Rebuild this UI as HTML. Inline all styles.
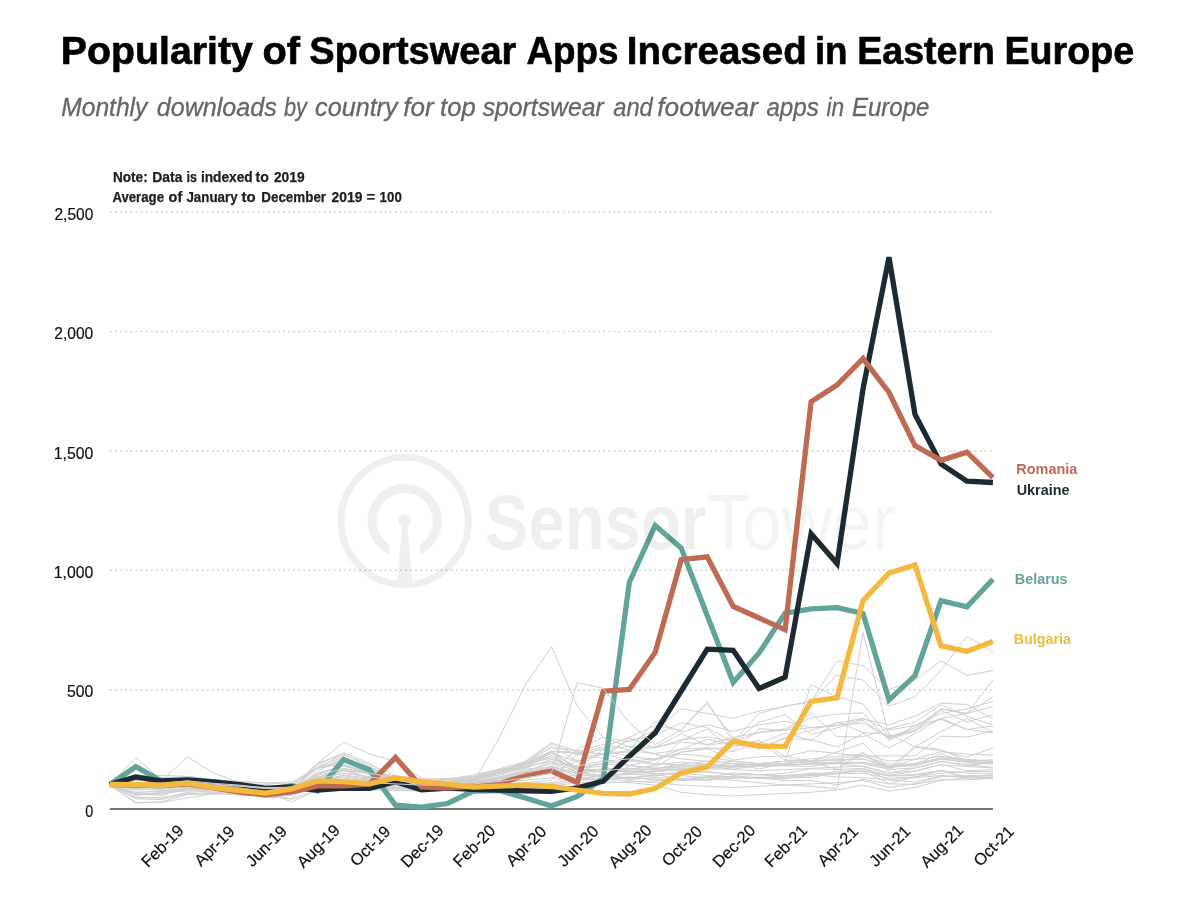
<!DOCTYPE html>
<html lang="en">
<head>
<meta charset="utf-8">
<title>Popularity of Sportswear Apps Increased in Eastern Europe</title>
<style>
html,body{margin:0;padding:0;background:#fff;}
body{width:1180px;height:900px;overflow:hidden;font-family:"Liberation Sans",sans-serif;}
svg{display:block;font-family:"Liberation Sans",sans-serif;}
.title{font-weight:bold;font-size:38.8px;fill:#000;stroke:#000;stroke-width:0.6px;}
.sub{font-style:italic;font-size:26.6px;fill:#666;stroke:#666;stroke-width:0.3px;}
.note{font-weight:bold;font-size:14.2px;fill:#1e1e1e;stroke:#1e1e1e;stroke-width:0.25px;}
.ax text{font-size:16.4px;fill:#111;stroke:#111;stroke-width:0.2px;}
.leg text{font-weight:bold;font-size:15.4px;}
.yl{font-size:16.2px;fill:#111;stroke:#111;stroke-width:0.25px;}
.grid line{stroke:#cacaca;stroke-width:1.5;stroke-dasharray:1.7 3.385;}
.gray polyline{fill:none;stroke:#d0d0d0;stroke-width:1;stroke-linejoin:round;}
.main polyline{fill:none;stroke-width:5.3;stroke-linejoin:miter;stroke-linecap:butt;}
.wm{fill:#000;}
.wmb{font-size:78px;font-weight:bold;fill:#000;}
.wmr{font-size:78px;fill:#000;opacity:0.75;}
</style>
</head>
<body>
<svg width="1180" height="900" viewBox="0 0 1180 900">
<rect width="1180" height="900" fill="#fff"/>
<text class="title" y="63.7"><tspan x="60.87" textLength="192.10" lengthAdjust="spacingAndGlyphs">Popularity</tspan> <tspan x="262.57" textLength="37.54" lengthAdjust="spacingAndGlyphs">of</tspan> <tspan x="309.32" textLength="207.08" lengthAdjust="spacingAndGlyphs">Sportswear</tspan> <tspan x="526.40" textLength="92.10" lengthAdjust="spacingAndGlyphs">Apps</tspan> <tspan x="626.81" textLength="179.97" lengthAdjust="spacingAndGlyphs">Increased</tspan> <tspan x="814.90" textLength="32.71" lengthAdjust="spacingAndGlyphs">in</tspan> <tspan x="857.16" textLength="137.88" lengthAdjust="spacingAndGlyphs">Eastern</tspan> <tspan x="1004.46" textLength="129.70" lengthAdjust="spacingAndGlyphs">Europe</tspan></text>
<text class="sub" y="115.5"><tspan x="61.20" textLength="86.22" lengthAdjust="spacingAndGlyphs">Monthly</tspan> <tspan x="156.80" textLength="119.88" lengthAdjust="spacingAndGlyphs">downloads</tspan> <tspan x="283.90" textLength="23.01" lengthAdjust="spacingAndGlyphs">by</tspan> <tspan x="315.10" textLength="82.49" lengthAdjust="spacingAndGlyphs">country</tspan> <tspan x="403.20" textLength="30.38" lengthAdjust="spacingAndGlyphs">for</tspan> <tspan x="440.04" textLength="35.63" lengthAdjust="spacingAndGlyphs">top</tspan> <tspan x="482.70" textLength="120.94" lengthAdjust="spacingAndGlyphs">sportswear</tspan> <tspan x="613.20" textLength="39.62" lengthAdjust="spacingAndGlyphs">and</tspan> <tspan x="657.30" textLength="100.57" lengthAdjust="spacingAndGlyphs">footwear</tspan> <tspan x="766.40" textLength="52.37" lengthAdjust="spacingAndGlyphs">apps</tspan> <tspan x="826.40" textLength="17.67" lengthAdjust="spacingAndGlyphs">in</tspan> <tspan x="851.90" textLength="77.62" lengthAdjust="spacingAndGlyphs">Europe</tspan></text>
<text class="note" y="182.1"><tspan x="112.90" textLength="34.80" lengthAdjust="spacingAndGlyphs">Note:</tspan> <tspan x="152.30" textLength="30.09" lengthAdjust="spacingAndGlyphs">Data</tspan> <tspan x="186.40" textLength="10.50" lengthAdjust="spacingAndGlyphs">is</tspan> <tspan x="200.90" textLength="51.84" lengthAdjust="spacingAndGlyphs">indexed</tspan> <tspan x="255.60" textLength="13.27" lengthAdjust="spacingAndGlyphs">to</tspan> <tspan x="273.90" textLength="30.69" lengthAdjust="spacingAndGlyphs">2019</tspan></text>
<text class="note" y="201.8"><tspan x="112.40" textLength="51.60" lengthAdjust="spacingAndGlyphs">Average</tspan> <tspan x="168.60" textLength="13.62" lengthAdjust="spacingAndGlyphs">of</tspan> <tspan x="186.40" textLength="51.20" lengthAdjust="spacingAndGlyphs">January</tspan> <tspan x="241.60" textLength="14.15" lengthAdjust="spacingAndGlyphs">to</tspan> <tspan x="261.30" textLength="64.75" lengthAdjust="spacingAndGlyphs">December</tspan> <tspan x="331.50" textLength="30.89" lengthAdjust="spacingAndGlyphs">2019</tspan> <tspan x="366.40" textLength="8.70" lengthAdjust="spacingAndGlyphs">=</tspan> <tspan x="379.60" textLength="22.20" lengthAdjust="spacingAndGlyphs">100</tspan></text>


<g class="grid">
<line x1="110.2" y1="689.7" x2="993" y2="689.7"/>
<line x1="110.2" y1="570.3" x2="993" y2="570.3"/>
<line x1="110.2" y1="450.9" x2="993" y2="450.9"/>
<line x1="110.2" y1="331.5" x2="993" y2="331.5"/>
<line x1="110.2" y1="212.1" x2="993" y2="212.1"/>
</g>
<g class="gray">
<polyline points="109.8,785.1 135.8,757.7 161.7,780.3 187.7,756.9 213.7,773.2 239.7,782.7 265.6,787.5 291.6,789.9 317.6,773.2 343.6,766.0 369.5,773.2 395.5,775.6 421.5,782.7 447.5,785.1 473.4,783.9 499.4,782.7 525.4,780.3 551.4,778.0 577.3,779.1 603.3,780.3 629.3,778.0 655.2,775.6 681.2,773.2 707.2,775.6 733.2,776.8 759.1,778.0 785.1,775.6 811.1,773.2 837.1,773.2 863.0,770.8 889.0,775.6 915.0,774.4 941.0,770.8 966.9,773.2 992.9,773.2"/>
<polyline points="109.8,785.1 135.8,778.0 161.7,782.7 187.7,780.3 213.7,783.9 239.7,786.3 265.6,788.7 291.6,791.1 317.6,763.6 343.6,742.1 369.5,754.1 395.5,761.2 421.5,778.0 447.5,782.7 473.4,781.5 499.4,780.3 525.4,778.0 551.4,773.2 577.3,768.4 603.3,763.6 629.3,761.2 655.2,758.9 681.2,754.1 707.2,756.5 733.2,761.2 759.1,763.6 785.1,761.2 811.1,758.9 837.1,756.5 863.0,754.1 889.0,761.2 915.0,758.9 941.0,751.7 966.9,754.1 992.9,755.3"/>
<polyline stroke="#e0e0e0" points="109.8,785.1 135.8,787.5 161.7,786.3 187.7,785.1 213.7,786.3 239.7,787.5 265.6,788.7 291.6,789.9 317.6,785.1 343.6,782.7 369.5,783.9 395.5,785.1 421.5,786.3 447.5,786.3 473.4,782.7 499.4,737.4 525.4,684.8 551.4,646.6 577.3,706.3 603.3,737.4 629.3,746.9 655.2,754.1 681.2,758.9 707.2,761.2 733.2,763.6 759.1,764.8 785.1,763.6 811.1,761.2 837.1,760.0 863.0,758.9 889.0,766.0 915.0,763.6 941.0,757.7 966.9,760.0 992.9,761.2"/>
<polyline points="109.8,785.1 135.8,789.9 161.7,788.7 187.7,787.5 213.7,788.7 239.7,789.9 265.6,791.1 291.6,792.3 317.6,786.3 343.6,785.1 369.5,786.3 395.5,787.5 421.5,788.7 447.5,787.5 473.4,786.3 499.4,785.1 525.4,782.7 551.4,780.3 577.3,754.1 603.3,746.9 629.3,737.4 655.2,725.4 681.2,730.2 707.2,701.5 733.2,742.1 759.1,713.5 785.1,706.3 811.1,701.5 837.1,675.3 863.0,680.0 889.0,706.3 915.0,696.8 941.0,670.5 966.9,636.1 992.9,652.1"/>
<polyline points="109.8,785.1 135.8,782.7 161.7,783.9 187.7,782.7 213.7,785.1 239.7,786.3 265.6,787.5 291.6,788.7 317.6,780.3 343.6,775.6 369.5,778.0 395.5,780.3 421.5,782.7 447.5,783.9 473.4,782.7 499.4,780.3 525.4,775.6 551.4,770.8 577.3,749.3 603.3,737.4 629.3,742.1 655.2,730.2 681.2,708.7 707.2,713.5 733.2,718.3 759.1,711.1 785.1,706.3 811.1,701.5 837.1,660.9 863.0,665.7 889.0,689.6 915.0,680.0 941.0,660.9 966.9,675.3 992.9,670.5"/>
<polyline points="109.8,785.1 135.8,792.3 161.7,791.1 187.7,789.9 213.7,788.7 239.7,789.9 265.6,790.4 291.6,791.8 317.6,787.5 343.6,786.3 369.5,787.5 395.5,788.0 421.5,788.7 447.5,788.0 473.4,787.0 499.4,785.6 525.4,783.9 551.4,782.7 577.3,773.2 603.3,768.4 629.3,770.8 655.2,773.2 681.2,775.6 707.2,778.0 733.2,780.3 759.1,782.7 785.1,785.1 811.1,786.3 837.1,788.7 863.0,632.5 889.0,736.2 915.0,730.2 941.0,708.7 966.9,713.5 992.9,706.3"/>
<polyline points="109.8,785.1 135.8,794.7 161.7,792.3 187.7,791.1 213.7,789.9 239.7,790.4 265.6,791.1 291.6,792.3 317.6,788.7 343.6,787.5 369.5,788.0 395.5,788.7 421.5,789.4 447.5,788.7 473.4,787.5 499.4,786.3 525.4,785.1 551.4,783.9 577.3,778.0 603.3,775.6 629.3,773.2 655.2,770.8 681.2,768.4 707.2,767.2 733.2,766.0 759.1,763.6 785.1,761.2 811.1,684.8 837.1,696.8 863.0,703.9 889.0,737.4 915.0,727.8 941.0,708.7 966.9,713.5 992.9,680.0"/>
<polyline points="109.8,785.1 135.8,780.3 161.7,781.5 187.7,779.1 213.7,782.7 239.7,785.1 265.6,786.3 291.6,787.5 317.6,778.0 343.6,770.8 369.5,773.2 395.5,778.0 421.5,781.5 447.5,782.7 473.4,781.5 499.4,779.1 525.4,775.6 551.4,772.0 577.3,761.2 603.3,754.1 629.3,751.7 655.2,746.9 681.2,742.1 707.2,744.5 733.2,737.4 759.1,732.6 785.1,730.2 811.1,727.8 837.1,725.4 863.0,723.0 889.0,737.4 915.0,730.2 941.0,718.3 966.9,713.5 992.9,696.8"/>
<polyline points="109.8,785.1 135.8,803.0 161.7,801.8 187.7,794.7 213.7,792.3 239.7,791.8 265.6,792.3 291.6,801.8 317.6,789.9 343.6,788.7 369.5,789.9 395.5,790.4 421.5,791.1 447.5,790.4 473.4,789.4 499.4,788.0 525.4,787.0 551.4,786.1 577.3,782.7 603.3,781.5 629.3,782.7 655.2,785.1 681.2,792.3 707.2,794.7 733.2,795.9 759.1,794.7 785.1,793.5 811.1,792.3 837.1,789.9 863.0,785.1 889.0,791.1 915.0,787.5 941.0,780.3 966.9,778.0 992.9,776.8"/>
<polyline points="109.8,785.1 135.8,797.1 161.7,798.3 187.7,792.3 213.7,791.1 239.7,791.3 265.6,792.3 291.6,799.4 317.6,789.4 343.6,788.0 369.5,788.9 395.5,789.9 421.5,790.4 447.5,789.9 473.4,788.7 499.4,787.5 525.4,786.3 551.4,785.1 577.3,780.3 603.3,779.1 629.3,780.8 655.2,782.7 681.2,785.1 707.2,786.3 733.2,787.5 759.1,786.3 785.1,785.1 811.1,783.9 837.1,782.7 863.0,780.3 889.0,787.5 915.0,783.9 941.0,776.8 966.9,775.6 992.9,775.1"/>
<polyline points="109.8,785.1 135.8,784.9 161.7,786.0 187.7,785.2 213.7,786.3 239.7,786.7 265.6,788.9 291.6,787.4 317.6,782.2 343.6,776.9 369.5,781.0 395.5,782.9 421.5,784.5 447.5,784.7 473.4,783.2 499.4,776.9 525.4,772.0 551.4,761.7 577.3,777.5 603.3,780.3 629.3,776.8 655.2,780.1 681.2,780.3 707.2,777.8 733.2,772.9 759.1,774.5 785.1,775.9 811.1,774.5 837.1,776.9 863.0,777.7 889.0,779.9 915.0,782.0 941.0,775.9 966.9,776.3 992.9,775.6"/>
<polyline points="109.8,785.1 135.8,776.1 161.7,775.4 187.7,776.4 213.7,779.6 239.7,781.3 265.6,782.9 291.6,781.9 317.6,768.3 343.6,764.1 369.5,773.6 395.5,779.7 421.5,781.9 447.5,782.4 473.4,778.3 499.4,771.8 525.4,767.1 551.4,755.8 577.3,770.2 603.3,769.7 629.3,771.9 655.2,771.6 681.2,769.4 707.2,767.2 733.2,767.0 759.1,765.0 785.1,765.5 811.1,764.1 837.1,763.7 863.0,762.5 889.0,768.2 915.0,763.2 941.0,759.5 966.9,761.0 992.9,763.1"/>
<polyline points="109.8,785.1 135.8,787.8 161.7,787.4 187.7,783.5 213.7,785.9 239.7,787.2 265.6,786.6 291.6,788.4 317.6,764.4 343.6,752.7 369.5,763.1 395.5,780.9 421.5,783.1 447.5,778.6 473.4,777.1 499.4,773.1 525.4,764.3 551.4,753.1 577.3,767.6 603.3,766.7 629.3,773.4 655.2,771.0 681.2,766.3 707.2,765.2 733.2,765.6 759.1,763.8 785.1,764.6 811.1,764.4 837.1,763.4 863.0,766.6 889.0,773.1 915.0,768.1 941.0,761.6 966.9,765.7 992.9,762.0"/>
<polyline points="109.8,785.1 135.8,794.0 161.7,795.4 187.7,788.3 213.7,788.6 239.7,788.1 265.6,789.7 291.6,792.2 317.6,771.0 343.6,757.7 369.5,769.0 395.5,778.5 421.5,780.7 447.5,779.6 473.4,774.7 499.4,769.4 525.4,765.0 551.4,751.0 577.3,769.8 603.3,769.3 629.3,769.2 655.2,765.1 681.2,761.9 707.2,765.4 733.2,763.5 759.1,769.0 785.1,763.3 811.1,761.9 837.1,763.0 863.0,763.5 889.0,769.3 915.0,768.0 941.0,761.4 966.9,764.7 992.9,767.4"/>
<polyline points="109.8,785.1 135.8,775.1 161.7,777.9 187.7,776.7 213.7,780.5 239.7,782.4 265.6,786.2 291.6,784.3 317.6,768.1 343.6,754.1 369.5,766.9 395.5,780.4 421.5,783.3 447.5,782.8 473.4,778.9 499.4,773.1 525.4,764.7 551.4,755.8 577.3,770.6 603.3,769.8 629.3,772.2 655.2,768.5 681.2,767.2 707.2,766.4 733.2,769.1 759.1,765.7 785.1,765.7 811.1,763.1 837.1,762.4 863.0,762.2 889.0,766.4 915.0,766.0 941.0,758.9 966.9,762.2 992.9,762.6"/>
<polyline points="109.8,785.1 135.8,792.4 161.7,791.0 187.7,788.8 213.7,787.5 239.7,788.2 265.6,788.4 291.6,791.9 317.6,774.5 343.6,765.2 369.5,772.4 395.5,781.5 421.5,781.1 447.5,781.2 473.4,778.7 499.4,772.1 525.4,763.5 551.4,758.1 577.3,767.9 603.3,772.8 629.3,770.2 655.2,768.6 681.2,763.9 707.2,763.6 733.2,761.3 759.1,763.9 785.1,761.3 811.1,760.8 837.1,758.7 863.0,755.7 889.0,766.6 915.0,759.5 941.0,756.3 966.9,759.3 992.9,761.6"/>
<polyline points="109.8,785.1 135.8,802.3 161.7,802.4 187.7,797.8 213.7,793.4 239.7,795.1 265.6,796.6 291.6,798.7 317.6,778.2 343.6,770.0 369.5,778.3 395.5,786.8 421.5,787.8 447.5,785.8 473.4,783.8 499.4,781.1 525.4,775.2 551.4,767.2 577.3,779.8 603.3,777.7 629.3,778.0 655.2,779.0 681.2,780.2 707.2,780.2 733.2,775.7 759.1,778.3 785.1,779.0 811.1,773.7 837.1,773.2 863.0,770.9 889.0,776.1 915.0,775.3 941.0,770.4 966.9,777.8 992.9,778.4"/>
<polyline points="109.8,785.1 135.8,798.2 161.7,797.4 187.7,793.6 213.7,794.2 239.7,793.5 265.6,793.5 291.6,795.5 317.6,787.2 343.6,781.3 369.5,783.1 395.5,787.5 421.5,786.0 447.5,782.4 473.4,781.9 499.4,778.3 525.4,775.1 551.4,770.0 577.3,780.0 603.3,775.0 629.3,779.5 655.2,777.5 681.2,778.6 707.2,776.5 733.2,777.1 759.1,777.2 785.1,777.6 811.1,775.5 837.1,773.8 863.0,773.3 889.0,778.2 915.0,776.9 941.0,773.2 966.9,771.6 992.9,771.4"/>
<polyline points="109.8,785.1 135.8,788.7 161.7,790.2 187.7,789.2 213.7,788.9 239.7,789.3 265.6,788.9 291.6,790.6 317.6,782.9 343.6,775.1 369.5,779.0 395.5,782.9 421.5,788.9 447.5,782.9 473.4,781.2 499.4,778.1 525.4,772.2 551.4,766.1 577.3,773.4 603.3,775.5 629.3,774.6 655.2,773.5 681.2,772.8 707.2,771.6 733.2,774.8 759.1,774.6 785.1,777.0 811.1,775.6 837.1,771.0 863.0,771.4 889.0,783.6 915.0,776.9 941.0,770.6 966.9,776.8 992.9,777.9"/>
<polyline points="109.8,785.1 135.8,786.6 161.7,786.5 187.7,784.5 213.7,789.2 239.7,788.2 265.6,788.6 291.6,790.3 317.6,786.9 343.6,787.5 369.5,787.0 395.5,785.4 421.5,784.5 447.5,787.1 473.4,783.8 499.4,782.9 525.4,776.3 551.4,771.4 577.3,782.6 603.3,783.3 629.3,781.7 655.2,781.0 681.2,779.9 707.2,777.3 733.2,777.7 759.1,777.8 785.1,780.7 811.1,780.4 837.1,784.7 863.0,779.4 889.0,783.9 915.0,784.3 941.0,779.7 966.9,779.9 992.9,778.3"/>
<polyline points="109.8,785.1 135.8,795.0 161.7,794.2 187.7,789.4 213.7,788.6 239.7,789.9 265.6,789.9 291.6,792.5 317.6,778.2 343.6,769.7 369.5,777.8 395.5,779.2 421.5,781.4 447.5,781.2 473.4,776.6 499.4,770.5 525.4,763.3 551.4,753.0 577.3,767.2 603.3,763.9 629.3,765.4 655.2,768.2 681.2,765.5 707.2,766.5 733.2,767.1 759.1,766.3 785.1,765.7 811.1,766.5 837.1,761.9 863.0,756.2 889.0,764.0 915.0,764.3 941.0,753.6 966.9,763.0 992.9,764.0"/>
<polyline points="109.8,785.1 135.8,784.0 161.7,784.0 187.7,781.9 213.7,785.3 239.7,785.6 265.6,787.2 291.6,788.2 317.6,786.2 343.6,784.6 369.5,785.5 395.5,783.1 421.5,786.3 447.5,782.6 473.4,782.0 499.4,777.2 525.4,769.1 551.4,767.1 577.3,776.2 603.3,774.4 629.3,778.2 655.2,774.4 681.2,779.3 707.2,779.9 733.2,778.3 759.1,777.7 785.1,778.0 811.1,777.3 837.1,773.2 863.0,768.6 889.0,779.8 915.0,777.7 941.0,775.5 966.9,777.9 992.9,774.3"/>
<polyline points="109.8,785.1 135.8,780.5 161.7,780.6 187.7,777.5 213.7,784.9 239.7,783.9 265.6,786.6 291.6,789.3 317.6,768.2 343.6,761.9 369.5,770.1 395.5,781.8 421.5,786.1 447.5,783.6 473.4,779.7 499.4,775.0 525.4,767.0 551.4,761.2 577.3,772.1 603.3,776.4 629.3,773.9 655.2,776.1 681.2,772.5 707.2,772.0 733.2,774.6 759.1,774.9 785.1,773.4 811.1,768.7 837.1,769.6 863.0,768.4 889.0,775.2 915.0,771.5 941.0,764.4 966.9,770.7 992.9,769.6"/>
<polyline points="109.8,785.1 135.8,785.7 161.7,789.1 187.7,784.7 213.7,788.3 239.7,786.0 265.6,787.1 291.6,787.7 317.6,773.8 343.6,766.0 369.5,772.5 395.5,778.9 421.5,781.1 447.5,781.5 473.4,776.3 499.4,772.8 525.4,762.6 551.4,751.2 577.3,752.3 603.3,753.8 629.3,750.7 655.2,753.5 681.2,749.5 707.2,739.3 733.2,744.4 759.1,748.1 785.1,738.4 811.1,739.7 837.1,747.0 863.0,733.5 889.0,748.1 915.0,733.6 941.0,718.2 966.9,729.3 992.9,732.8"/>
<polyline points="109.8,785.1 135.8,785.1 161.7,785.6 187.7,782.5 213.7,784.0 239.7,786.0 265.6,786.1 291.6,786.6 317.6,763.0 343.6,754.9 369.5,764.5 395.5,775.5 421.5,779.0 447.5,778.5 473.4,776.5 499.4,768.7 525.4,761.6 551.4,744.1 577.3,755.2 603.3,748.9 629.3,746.5 655.2,747.2 681.2,733.7 707.2,745.2 733.2,741.7 759.1,732.2 785.1,728.9 811.1,713.3 837.1,736.7 863.0,736.8 889.0,728.7 915.0,722.0 941.0,704.8 966.9,716.4 992.9,725.0"/>
<polyline points="109.8,785.1 135.8,798.8 161.7,799.6 187.7,794.0 213.7,792.8 239.7,791.8 265.6,791.1 291.6,792.7 317.6,785.4 343.6,781.4 369.5,778.8 395.5,780.8 421.5,782.0 447.5,782.6 473.4,778.9 499.4,772.9 525.4,768.3 551.4,759.3 577.3,768.5 603.3,749.3 629.3,756.7 655.2,759.1 681.2,749.3 707.2,747.6 733.2,751.6 759.1,742.3 785.1,759.8 811.1,761.4 837.1,752.0 863.0,743.2 889.0,768.0 915.0,747.1 941.0,751.1 966.9,757.1 992.9,747.9"/>
<polyline points="109.8,785.1 135.8,793.9 161.7,793.2 187.7,787.4 213.7,788.8 239.7,790.5 265.6,794.0 291.6,790.5 317.6,782.5 343.6,775.0 369.5,779.9 395.5,778.5 421.5,782.8 447.5,782.3 473.4,781.0 499.4,772.8 525.4,766.5 551.4,752.7 577.3,774.4 603.3,760.0 629.3,765.3 655.2,760.0 681.2,752.1 707.2,749.0 733.2,746.8 759.1,740.1 785.1,756.7 811.1,750.7 837.1,753.4 863.0,756.2 889.0,755.8 915.0,755.9 941.0,736.1 966.9,737.1 992.9,731.0"/>
<polyline points="109.8,785.1 135.8,779.5 161.7,779.0 187.7,779.4 213.7,780.5 239.7,782.9 265.6,783.0 291.6,784.2 317.6,767.9 343.6,760.2 369.5,766.5 395.5,778.1 421.5,781.0 447.5,781.8 473.4,778.1 499.4,771.7 525.4,761.3 551.4,747.9 577.3,750.5 603.3,754.5 629.3,740.1 655.2,735.6 681.2,722.7 707.2,727.6 733.2,742.3 759.1,722.3 785.1,714.7 811.1,734.4 837.1,727.9 863.0,720.4 889.0,738.7 915.0,731.3 941.0,710.4 966.9,721.8 992.9,714.9"/>
<polyline points="109.8,785.1 135.8,789.1 161.7,788.9 187.7,785.6 213.7,787.5 239.7,787.9 265.6,788.5 291.6,790.6 317.6,777.3 343.6,768.7 369.5,774.4 395.5,783.2 421.5,783.5 447.5,782.0 473.4,778.8 499.4,769.6 525.4,766.7 551.4,752.9 577.3,761.6 603.3,779.4 629.3,765.9 655.2,767.1 681.2,751.9 707.2,748.4 733.2,760.2 759.1,756.8 785.1,756.1 811.1,762.0 837.1,769.2 863.0,752.2 889.0,771.4 915.0,746.5 941.0,749.4 966.9,761.2 992.9,759.6"/>
<polyline points="109.8,785.1 135.8,782.8 161.7,785.9 187.7,783.8 213.7,784.6 239.7,787.6 265.6,790.6 291.6,786.7 317.6,777.5 343.6,773.1 369.5,776.6 395.5,778.7 421.5,782.8 447.5,779.4 473.4,779.6 499.4,774.8 525.4,767.1 551.4,751.5 577.3,753.2 603.3,758.4 629.3,737.9 655.2,748.0 681.2,739.6 707.2,737.0 733.2,741.0 759.1,743.3 785.1,733.0 811.1,740.4 837.1,721.7 863.0,732.6 889.0,734.0 915.0,746.7 941.0,731.8 966.9,718.4 992.9,732.3"/>
<polyline points="109.8,785.1 135.8,786.1 161.7,785.3 187.7,783.8 213.7,785.0 239.7,785.9 265.6,787.9 291.6,790.1 317.6,766.3 343.6,757.1 369.5,769.9 395.5,779.9 421.5,784.4 447.5,783.7 473.4,778.4 499.4,772.2 525.4,761.5 551.4,742.8 577.3,751.5 603.3,744.4 629.3,750.0 655.2,721.0 681.2,732.2 707.2,724.6 733.2,731.4 759.1,724.9 785.1,721.2 811.1,727.7 837.1,725.6 863.0,718.9 889.0,724.8 915.0,716.2 941.0,703.2 966.9,704.5 992.9,718.8"/>
<polyline points="109.8,785.1 135.8,778.5 161.7,782.2 187.7,779.0 213.7,782.1 239.7,785.5 265.6,784.3 291.6,787.4 317.6,776.5 343.6,778.0 369.5,780.9 395.5,782.6 421.5,782.0 447.5,781.7 473.4,780.6 499.4,771.4 525.4,763.7 551.4,746.5 577.3,761.0 603.3,753.6 629.3,760.3 655.2,764.7 681.2,740.7 707.2,728.9 733.2,750.7 759.1,728.6 785.1,730.5 811.1,717.6 837.1,714.2 863.0,712.9 889.0,740.5 915.0,725.5 941.0,719.4 966.9,729.5 992.9,726.0"/>
</g>
<line x1="109.8" y1="809" x2="993" y2="809" stroke="#777" stroke-width="2"/>
<g class="main">
<polyline stroke="#62a499" points="109.8,784.5 135.8,766.7 161.7,781.0 187.7,780.7 213.7,787.5 239.7,789.0 265.6,790.0 291.6,785.8 317.6,790.8 343.6,759.5 369.5,770.0 395.5,805.1 421.5,807.1 447.5,803.5 473.4,791.0 499.4,790.5 525.4,798.0 551.4,806.0 577.3,796.5 603.3,778.5 629.3,582.5 655.2,525.5 681.2,548.0 707.2,615.5 733.2,682.5 759.1,653.0 785.1,613.1 811.1,608.9 837.1,607.7 863.0,613.5 889.0,700.0 915.0,675.6 941.0,600.6 966.9,606.8 992.9,579.2"/>
<polyline stroke="#1c2a33" points="109.8,784.5 135.8,776.9 161.7,781.0 187.7,779.8 213.7,782.0 239.7,784.6 265.6,788.3 291.6,787.0 317.6,790.2 343.6,788.0 369.5,788.3 395.5,781.7 421.5,789.8 447.5,788.0 473.4,789.3 499.4,790.0 525.4,790.9 551.4,791.4 577.3,787.9 603.3,781.2 629.3,756.2 655.2,732.8 681.2,691.0 707.2,649.2 733.2,650.3 759.1,688.5 785.1,677.2 811.1,533.8 837.1,563.6 863.0,389.0 889.0,257.3 915.0,414.5 941.0,464.0 966.9,481.2 992.9,482.5"/>
<polyline stroke="#bf6a53" points="109.8,784.5 135.8,785.0 161.7,785.5 187.7,784.0 213.7,788.0 239.7,792.0 265.6,795.0 291.6,792.0 317.6,785.8 343.6,785.8 369.5,784.0 395.5,757.5 421.5,786.8 447.5,788.0 473.4,786.0 499.4,784.0 525.4,775.0 551.4,771.0 577.3,782.5 603.3,691.2 629.3,689.5 655.2,652.4 681.2,559.7 707.2,556.8 733.2,606.4 759.1,618.0 785.1,629.7 811.1,401.7 837.1,385.0 863.0,358.6 889.0,392.5 915.0,445.6 941.0,460.4 966.9,452.2 992.9,477.7"/>
</g>
<g class="gray">
<polyline points="109.8,785.1 135.8,786.3 161.7,787.5 187.7,785.1 213.7,785.1 239.7,786.3 265.6,787.5 291.6,788.7 317.6,782.7 343.6,780.3 369.5,782.7 395.5,783.9 421.5,785.1 447.5,785.1 473.4,783.9 499.4,781.5 525.4,778.0 551.4,773.2 577.3,682.4 603.3,688.4 629.3,723.0 655.2,744.5 681.2,730.2 707.2,703.9 733.2,737.4 759.1,749.3 785.1,737.4 811.1,730.2 837.1,723.0 863.0,718.3 889.0,730.2 915.0,725.4 941.0,713.5 966.9,708.7 992.9,701.5"/>
<polyline points="109.8,785.1 135.8,783.9 161.7,783.2 187.7,780.8 213.7,783.4 239.7,785.1 265.6,788.0 291.6,787.0 317.6,775.6 343.6,768.4 369.5,773.2 395.5,778.0 421.5,782.3 447.5,782.7 473.4,780.8 499.4,776.8 525.4,770.8 551.4,763.6 577.3,766.0 603.3,761.2 629.3,758.9 655.2,763.6 681.2,764.8 707.2,761.2 733.2,763.6 759.1,764.8 785.1,763.6 811.1,761.2 837.1,760.0 863.0,758.9 889.0,767.2 915.0,764.8 941.0,757.7 966.9,760.0 992.9,761.2"/>
<polyline points="109.8,785.1 135.8,785.8 161.7,785.1 187.7,782.0 213.7,784.2 239.7,786.1 265.6,788.7 291.6,787.5 317.6,779.1 343.6,773.2 369.5,776.8 395.5,780.3 421.5,783.9 447.5,784.2 473.4,782.3 499.4,779.1 525.4,773.2 551.4,767.2 577.3,773.2 603.3,770.8 629.3,768.4 655.2,769.6 681.2,770.8 707.2,768.4 733.2,769.6 759.1,770.8 785.1,769.6 811.1,768.4 837.1,767.2 863.0,766.0 889.0,773.2 915.0,770.8 941.0,764.8 966.9,766.5 992.9,767.9"/>
</g>
<g class="main">
<polyline stroke="#f2b93e" points="109.8,784.5 135.8,784.6 161.7,785.1 187.7,783.2 213.7,787.7 239.7,790.5 265.6,793.1 291.6,788.9 317.6,780.9 343.6,781.7 369.5,783.8 395.5,777.9 421.5,781.7 447.5,784.2 473.4,787.2 499.4,786.2 525.4,784.8 551.4,786.5 577.3,790.2 603.3,793.3 629.3,794.0 655.2,788.6 681.2,773.0 707.2,767.0 733.2,741.1 759.1,746.2 785.1,746.3 811.1,701.4 837.1,697.8 863.0,600.6 889.0,573.0 915.0,565.0 941.0,645.9 966.9,651.3 992.9,641.5"/>
</g>
<g class="ax">
<text class="yl" y="816.7"><tspan x="85.30" textLength="8.00" lengthAdjust="spacingAndGlyphs">0</tspan></text>
<text class="yl" y="697.3"><tspan x="67.00" textLength="26.30" lengthAdjust="spacingAndGlyphs">500</tspan></text>
<text class="yl" y="577.9"><tspan x="53.83" textLength="39.48" lengthAdjust="spacingAndGlyphs">1,000</tspan></text>
<text class="yl" y="458.5"><tspan x="53.83" textLength="39.48" lengthAdjust="spacingAndGlyphs">1,500</tspan></text>
<text class="yl" y="339.1"><tspan x="54.30" textLength="39.00" lengthAdjust="spacingAndGlyphs">2,000</tspan></text>
<text class="yl" y="219.7"><tspan x="54.50" textLength="38.80" lengthAdjust="spacingAndGlyphs">2,500</tspan></text>
<text x="162.1" y="845.7" text-anchor="middle" dominant-baseline="central" transform="rotate(-45 162.1 845.7)">Feb-19</text>
<text x="214.1" y="845.7" text-anchor="middle" dominant-baseline="central" transform="rotate(-45 214.1 845.7)">Apr-19</text>
<text x="266.0" y="845.7" text-anchor="middle" dominant-baseline="central" transform="rotate(-45 266.0 845.7)">Jun-19</text>
<text x="318.0" y="845.7" text-anchor="middle" dominant-baseline="central" transform="rotate(-45 318.0 845.7)">Aug-19</text>
<text x="369.9" y="845.7" text-anchor="middle" dominant-baseline="central" transform="rotate(-45 369.9 845.7)">Oct-19</text>
<text x="421.9" y="845.7" text-anchor="middle" dominant-baseline="central" transform="rotate(-45 421.9 845.7)">Dec-19</text>
<text x="473.8" y="845.7" text-anchor="middle" dominant-baseline="central" transform="rotate(-45 473.8 845.7)">Feb-20</text>
<text x="525.8" y="845.7" text-anchor="middle" dominant-baseline="central" transform="rotate(-45 525.8 845.7)">Apr-20</text>
<text x="577.7" y="845.7" text-anchor="middle" dominant-baseline="central" transform="rotate(-45 577.7 845.7)">Jun-20</text>
<text x="629.7" y="845.7" text-anchor="middle" dominant-baseline="central" transform="rotate(-45 629.7 845.7)">Aug-20</text>
<text x="681.6" y="845.7" text-anchor="middle" dominant-baseline="central" transform="rotate(-45 681.6 845.7)">Oct-20</text>
<text x="733.6" y="845.7" text-anchor="middle" dominant-baseline="central" transform="rotate(-45 733.6 845.7)">Dec-20</text>
<text x="785.5" y="845.7" text-anchor="middle" dominant-baseline="central" transform="rotate(-45 785.5 845.7)">Feb-21</text>
<text x="837.5" y="845.7" text-anchor="middle" dominant-baseline="central" transform="rotate(-45 837.5 845.7)">Apr-21</text>
<text x="889.4" y="845.7" text-anchor="middle" dominant-baseline="central" transform="rotate(-45 889.4 845.7)">Jun-21</text>
<text x="941.4" y="845.7" text-anchor="middle" dominant-baseline="central" transform="rotate(-45 941.4 845.7)">Aug-21</text>
<text x="993.3" y="845.7" text-anchor="middle" dominant-baseline="central" transform="rotate(-45 993.3 845.7)">Oct-21</text>
</g>
<g class="leg">
<text class="lg" y="473.5" fill="#bf6a53"><tspan x="1016.26" textLength="61.13" lengthAdjust="spacingAndGlyphs">Romania</tspan></text>
<text class="lg" y="494.5" fill="#1c2a33"><tspan x="1016.70" textLength="52.89" lengthAdjust="spacingAndGlyphs">Ukraine</tspan></text>
<text class="lg" y="583.5" fill="#62a499"><tspan x="1014.77" textLength="52.76" lengthAdjust="spacingAndGlyphs">Belarus</tspan></text>
<text class="lg" y="644.2" fill="#f2b93e"><tspan x="1013.77" textLength="57.22" lengthAdjust="spacingAndGlyphs">Bulgaria</tspan></text>
</g>
<!-- watermark -->
<g class="wm" opacity="0.058">
<circle cx="404.7" cy="521" r="63.6" fill="none" stroke="#000" stroke-width="7"/>
<path d="M 389.5 554.84 A 37.1 37.1 0 1 1 419.9 554.84 L 419.9 544.63 A 28.1 28.1 0 1 0 389.5 544.63 Z"/>
<circle cx="404.7" cy="521" r="6.4"/>
<path d="M 402.2 523 L 407.2 523 L 412 581.6 L 397.4 581.6 Z"/>
<text class="wmb" y="549"><tspan x="484.82" textLength="221.47" lengthAdjust="spacingAndGlyphs">Sensor</tspan></text>
<text class="wmr" y="549"><tspan x="706.79" textLength="188.69" lengthAdjust="spacingAndGlyphs">Tower</tspan></text>
</g>
</svg>
</body>
</html>
